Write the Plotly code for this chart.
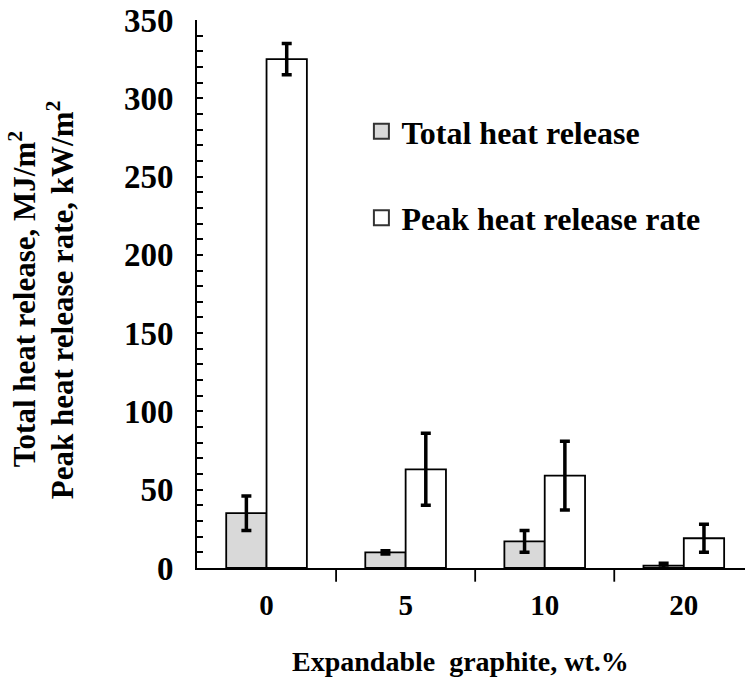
import plotly.graph_objects as go

categories = ["0", "5", "10", "20"]
thr = [35, 10, 17, 1.5]
thr_err = [11, 1, 7, 1.5]
phrr = [325, 63, 59, 19]
phrr_err = [10, 23, 22, 9]

series_names = ["Total heat release", "Peak heat release rate"]
series_colors = ["#d9d9d9", "white"]

font_family = "Liberation Serif"

fig = go.Figure()
for name, vals, errs, col in zip(series_names, [thr, phrr], [thr_err, phrr_err], series_colors):
    fig.add_trace(go.Bar(
        x=categories, y=vals, name=name, showlegend=False,
        marker=dict(color=col, line=dict(color="black", width=1.8)),
        error_y=dict(type="data", array=errs, color="black", thickness=3.5, width=5),
    ))

# legend entries (square swatches)
for i, (name, col) in enumerate(zip(series_names, series_colors)):
    fig.add_trace(go.Scatter(
        x=[None], y=[None], mode="markers", name=name, legendgroup=f"g{i}",
        marker=dict(symbol="square", size=15, color=col, line=dict(color="#333333", width=2)),
    ))

fig.update_layout(
    width=745, height=679,
    margin=dict(l=197, r=0, t=20, b=111),
    plot_bgcolor="white", paper_bgcolor="white",
    barmode="group", bargap=0.42, bargroupgap=0,
    font=dict(family=font_family, color="black"),
    showlegend=True,
    legend=dict(x=0.30, y=0.847, xanchor="left", yanchor="top",
                font=dict(family=font_family, size=32, color="black", weight="bold"),
                tracegroupgap=42, traceorder="grouped", itemwidth=30,
                bgcolor="rgba(0,0,0,0)"),
    xaxis=dict(
        range=[-0.5, 3.44], showline=True, linecolor="black", linewidth=1.8,
        tickfont=dict(size=29, weight="bold"), ticks="", showgrid=False,
        automargin=False, ticklabelstandoff=10,
    ),
    yaxis=dict(
        range=[0, 350], dtick=50, showline=True, linecolor="black", linewidth=1.8,
        ticks="inside", ticklen=6, tickcolor="black", tickwidth=1.5,
        minor=dict(dtick=10, ticks="inside", ticklen=6, tickcolor="black", tickwidth=1.5),
        tickfont=dict(size=33, weight="bold"), showgrid=False, zeroline=False,
        automargin=False, ticklabelstandoff=15,
    ),
)

# axis titles
fig.add_annotation(text="Expandable  graphite, wt.%", xref="paper", yref="paper",
                   x=0.48, y=-0.1715, xanchor="center", yanchor="middle", showarrow=False,
                   font=dict(size=28, weight="bold", family=font_family, color="black"))
fig.add_annotation(text="Total heat release, MJ/m<sup>2</sup>", xref="paper", yref="paper",
                   x=-0.318, y=0.49, xanchor="center", yanchor="middle", showarrow=False,
                   textangle=-90,
                   font=dict(size=31, weight="bold", family=font_family, color="black"))
fig.add_annotation(text="Peak heat release rate, kW/m<sup>2</sup>", xref="paper", yref="paper",
                   x=-0.2487, y=0.49, xanchor="center", yanchor="middle", showarrow=False,
                   textangle=-90,
                   font=dict(size=31, weight="bold", family=font_family, color="black"))

# category separator ticks on the x axis
for i in range(1, len(categories)):
    fig.add_shape(type="line", xref="x", yref="paper", x0=i - 0.5, x1=i - 0.5, y0=0, y1=-0.025,
                  line=dict(color="black", width=1.8))

fig.write_html("out.html", config={"displayModeBar": False},
               post_script="document.body.style.margin='0';document.body.style.padding='0';")
